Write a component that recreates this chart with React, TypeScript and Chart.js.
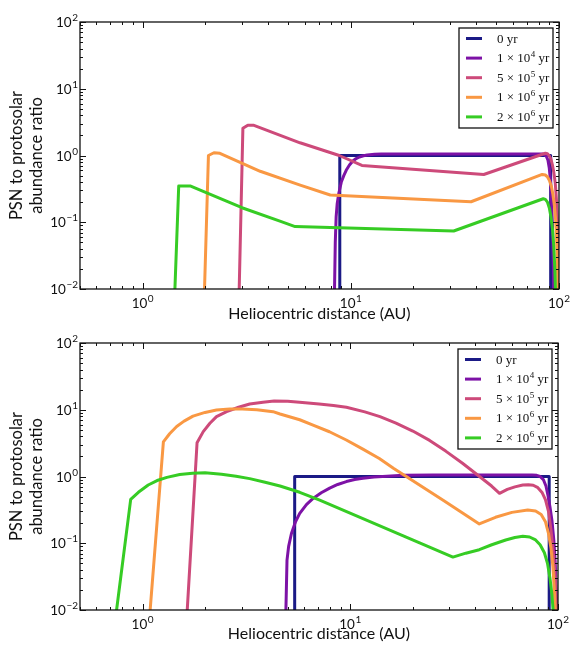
import React, { useEffect, useRef } from 'react';
import { Chart, registerables } from 'chart.js';
Chart.register(...registerables);

type Pt = [number, number];

// ---------- shared labels / styling data ----------
const seriesLabels = ['0 yr', '1 × 10^4 yr', '5 × 10^5 yr', '1 × 10^6 yr', '2 × 10^6 yr'];
const seriesColors = ['#1b1a86', '#7d12a6', '#cd4a7a', '#f99843', '#36cc24'];

const xMin = 0.5;
const xMax = 100;
const yMin = 0.01;
const yMax = 100;
const xTickValues = [1, 10, 100];
const xTickExponents = ['0', '1', '2'];
const yTickValues = [0.01, 0.1, 1, 10, 100];
const yTickExponents = ['−2', '−1', '0', '1', '2'];
const xAxisTitle = 'Heliocentric distance (AU)';
const yAxisTitle = ['PSN to protosolar', 'abundance ratio'];

// ---------- top panel series: [distance AU, ratio] ----------
const top0yr: Pt[] = [[8.85, 0.001], [8.85, 1], [91.2, 1], [91.2, 0.001]];
const top1e4yr: Pt[] = [
  [8.3, 0.001], [8.35, 0.01], [8.42, 0.05], [8.5, 0.12], [8.6, 0.19], [8.75, 0.27], [9.0, 0.4],
  [9.25, 0.5], [9.5, 0.6], [9.85, 0.72], [10.2, 0.82], [10.6, 0.9], [11, 0.95], [11.5, 0.99],
  [12, 1.02], [13, 1.04], [14, 1.05], [84, 1.05], [85.5, 1.03], [87, 0.97], [88.5, 0.85],
  [89.8, 0.65], [91, 0.42], [92, 0.22], [93, 0.09], [94, 0.02], [94.5, 0.001],
];
const top5e5yr: Pt[] = [
  [2.86, 0.001], [3.03, 2.55], [3.2, 2.85], [3.4, 2.85], [5.7, 1.55], [8.8, 1.0], [11.3, 0.71],
  [43.5, 0.52], [86, 1.08], [88, 1.06], [90, 0.98], [91.5, 0.88], [93, 0.72], [94.5, 0.55],
  [96, 0.38], [97.2, 0.22], [98.3, 0.1], [99.3, 0.03], [100, 0.005],
];
const top1e6yr: Pt[] = [
  [1.94, 0.001], [2.07, 1.0], [2.2, 1.1], [2.35, 1.08], [3.67, 0.58], [5.71, 0.36], [7.96, 0.256],
  [37.8, 0.203], [83, 0.52], [86, 0.51], [88, 0.48], [90, 0.42], [92, 0.34], [93.5, 0.26],
  [95, 0.18], [96.3, 0.11], [97.3, 0.06], [98.2, 0.025], [98.8, 0.008], [99.2, 0.001],
];
const top2e6yr: Pt[] = [
  [1.39, 0.001], [1.49, 0.35], [1.69, 0.35], [3.0, 0.165], [4.6, 0.103], [5.4, 0.086],
  [31.2, 0.074], [84, 0.225], [86, 0.22], [88, 0.2], [90, 0.16], [91.5, 0.12], [93, 0.08],
  [94.3, 0.045], [95.5, 0.02], [96.3, 0.008], [97, 0.001],
];

// ---------- bottom panel series ----------
const bot0yr: Pt[] = [[5.4, 0.001], [5.4, 1], [90.7, 1], [90.7, 0.001]];
const bot1e4yr: Pt[] = [
  [4.86, 0.001], [4.9, 0.01], [4.96, 0.056], [5.05, 0.09], [5.21, 0.14], [5.45, 0.21], [5.71, 0.28],
  [6.15, 0.38], [6.62, 0.47], [7.25, 0.57], [7.96, 0.67], [8.7, 0.76], [9.58, 0.84], [10.5, 0.9],
  [11.5, 0.94], [13, 0.98], [15, 1.01], [18, 1.04], [25, 1.05], [75, 1.05], [79, 1.04], [82, 1.0],
  [85, 0.9], [87.5, 0.72], [89.5, 0.52], [91.5, 0.35], [93.5, 0.22], [95.5, 0.11], [97, 0.05],
  [98.2, 0.015], [98.8, 0.001],
];
const bot5e5yr: Pt[] = [
  [1.62, 0.005], [1.83, 3.2], [1.96, 4.7], [2.11, 6.27], [2.27, 7.9], [2.54, 9.35], [2.9, 10.9],
  [3.28, 12.2], [3.8, 13.0], [4.3, 13.5], [5.0, 13.4], [5.7, 13.0], [7.08, 12.2], [8.3, 11.6],
  [9.58, 10.9], [11.75, 9.3], [13.9, 7.87], [16.6, 6.3], [20, 4.8], [24.1, 3.47], [28.8, 2.4],
  [34.7, 1.58], [41.9, 1.0], [47.9, 0.72], [52.3, 0.56], [57, 0.64], [62, 0.7], [67.7, 0.745],
  [72, 0.755], [76, 0.74], [80, 0.68], [84, 0.57], [87, 0.45], [90, 0.3], [92.5, 0.16], [95, 0.07],
  [97, 0.03], [98.6, 0.01], [99.2, 0.001],
];
const bot1e6yr: Pt[] = [
  [1.07, 0.001], [1.088, 0.01], [1.26, 3.3], [1.35, 4.37], [1.46, 5.6], [1.585, 6.76], [1.75, 8.04],
  [2.0, 9.12], [2.27, 9.9], [2.63, 10.28], [3.02, 10.28], [3.55, 10.0], [4.25, 9.35], [4.59, 8.63],
  [5.71, 7.08], [6.62, 5.9], [7.94, 4.68], [9.57, 3.52], [11.5, 2.57], [13.8, 1.86], [16.2, 1.32],
  [18.6, 1.0], [28, 0.44], [41.8, 0.195], [50, 0.245], [60, 0.29], [71.5, 0.315], [78, 0.305],
  [83, 0.27], [87, 0.21], [90, 0.14], [92.5, 0.085], [94.5, 0.045], [96, 0.02], [97, 0.01], [97.5, 0.001],
];
const bot2e6yr: Pt[] = [
  [0.74, 0.001], [0.75, 0.01], [0.877, 0.455], [0.955, 0.58], [1.065, 0.746], [1.175, 0.87],
  [1.31, 0.97], [1.51, 1.07], [1.74, 1.12], [2.0, 1.135], [2.4, 1.084], [2.82, 1.01], [3.28, 0.93],
  [3.89, 0.82], [4.59, 0.72], [5.71, 0.58], [7.08, 0.447], [31.2, 0.062], [36, 0.071], [41.8, 0.08],
  [48, 0.095], [56, 0.112], [62, 0.122], [67.7, 0.127], [73, 0.124], [78, 0.112], [82, 0.095],
  [86, 0.072], [89, 0.05], [91.5, 0.03], [93.5, 0.017], [95.5, 0.007], [96.5, 0.001],
];

const topSeries = [top0yr, top1e4yr, top5e5yr, top1e6yr, top2e6yr];
const bottomSeries = [bot0yr, bot1e4yr, bot5e5yr, bot1e6yr, bot2e6yr];

const SANS = 'Lato, "Noto Sans", sans-serif';
const SERIF = '"Liberation Serif", "DejaVu Serif", serif';

function drawPower(
  ctx: CanvasRenderingContext2D,
  x: number,
  baseline: number,
  exp: string,
  align: 'center' | 'right'
) {
  const mainFont = `13.5px ${SANS}`;
  const expFont = `10px ${SANS}`;
  ctx.font = mainFont;
  const wb = ctx.measureText('10').width;
  ctx.font = expFont;
  const we = ctx.measureText(exp).width;
  const gap = 0.5;
  const total = wb + gap + we;
  const x0 = align === 'center' ? x - total / 2 : x - total;
  ctx.textAlign = 'left';
  ctx.textBaseline = 'alphabetic';
  ctx.fillStyle = '#111';
  ctx.font = mainFont;
  ctx.fillText('10', x0, baseline);
  ctx.font = expFont;
  ctx.fillText(exp, x0 + wb + gap, baseline - 6);
}

const decorPlugin = {
  id: 'decor',
  afterDatasetsDraw(chart: any) {
    const { ctx, chartArea } = chart;
    const { left, right, top, bottom } = chartArea;
    const xs = chart.scales.x;
    const ys = chart.scales.y;
    ctx.save();
    ctx.strokeStyle = '#111';
    ctx.lineWidth = 1.3;
    ctx.strokeRect(left, top, right - left, bottom - top);
    ctx.lineWidth = 1;
    const majorLen = 6;
    const minorLen = 3;
    for (let d = -1; d <= 2; d++) {
      for (let k = 1; k <= 9; k++) {
        const v = k * Math.pow(10, d);
        if (v < xMin - 1e-9 || v > xMax + 1e-9) continue;
        const px = Math.round(xs.getPixelForValue(v)) + 0.5;
        const len = k === 1 ? majorLen : minorLen;
        ctx.beginPath();
        ctx.moveTo(px, bottom);
        ctx.lineTo(px, bottom - len);
        ctx.moveTo(px, top);
        ctx.lineTo(px, top + len);
        ctx.stroke();
      }
    }
    for (let d = -2; d <= 2; d++) {
      for (let k = 1; k <= 9; k++) {
        const v = k * Math.pow(10, d);
        if (v < yMin - 1e-12 || v > yMax + 1e-9) continue;
        const py = Math.round(ys.getPixelForValue(v)) + 0.5;
        const len = k === 1 ? majorLen : minorLen;
        ctx.beginPath();
        ctx.moveTo(left, py);
        ctx.lineTo(left + len, py);
        ctx.moveTo(right, py);
        ctx.lineTo(right - len, py);
        ctx.stroke();
      }
    }
    xTickValues.forEach((v, i) => {
      drawPower(ctx, xs.getPixelForValue(v), bottom + 19, xTickExponents[i], 'center');
    });
    yTickValues.forEach((v, i) => {
      drawPower(ctx, left - 2, ys.getPixelForValue(v) + 5, yTickExponents[i], 'right');
    });

    // legend box
    const bw = 94;
    const bh = 100;
    const bx = right - 6 - bw;
    const by = top + 6;
    ctx.fillStyle = '#fff';
    ctx.fillRect(bx, by, bw, bh);
    ctx.strokeStyle = '#111';
    ctx.lineWidth = 1.3;
    ctx.strokeRect(bx, by, bw, bh);
    chart.data.datasets.forEach((ds: any, i: number) => {
      const ry = by + 10.5 + i * 19.6;
      ctx.strokeStyle = ds.borderColor;
      ctx.lineWidth = 3;
      ctx.beginPath();
      ctx.moveTo(bx + 7, ry);
      ctx.lineTo(bx + 23, ry);
      ctx.stroke();
      const label: string = ds.label;
      const tx = bx + 38;
      const base = ry + 4;
      ctx.fillStyle = '#111';
      ctx.textAlign = 'left';
      ctx.textBaseline = 'alphabetic';
      const mainFont = `13px ${SERIF}`;
      const supFont = `9px ${SERIF}`;
      if (label.includes('^')) {
        const [pre, rest] = label.split('^');
        const sp = rest.indexOf(' ');
        const exp = rest.slice(0, sp);
        const post = rest.slice(sp);
        ctx.font = mainFont;
        ctx.fillText(pre, tx, base);
        let cx = tx + ctx.measureText(pre).width + 0.5;
        ctx.font = supFont;
        ctx.fillText(exp, cx, base - 5);
        cx += ctx.measureText(exp).width;
        ctx.font = mainFont;
        ctx.fillText(post, cx, base);
      } else {
        ctx.font = mainFont;
        ctx.fillText(label, tx, base);
      }
    });
    ctx.restore();
  },
};

function makeConfig(series: Pt[][], pad: { top: number; right: number }, xAxisHeight: number, xTitlePadBottom: number) {
  return {
    type: 'line' as const,
    data: {
      datasets: series.map((pts, i) => ({
        label: seriesLabels[i],
        data: pts.map(([x, y]) => ({ x, y })),
        borderColor: seriesColors[i],
        backgroundColor: seriesColors[i],
        borderWidth: 3,
        pointRadius: 0,
        tension: 0,
        fill: false,
        borderJoinStyle: 'round' as const,
        order: series.length - i,
      })),
    },
    options: {
      animation: false as const,
      responsive: false,
      maintainAspectRatio: false,
      events: [],
      layout: { padding: { top: pad.top, right: pad.right, left: 0, bottom: 0 } },
      plugins: { legend: { display: false }, tooltip: { enabled: false } },
      scales: {
        x: {
          type: 'logarithmic' as const,
          min: xMin,
          max: xMax,
          grid: { display: false, drawTicks: false },
          border: { display: false },
          ticks: { display: false },
          title: {
            display: true,
            text: xAxisTitle,
            color: '#111',
            font: { family: SANS, size: 16 },
            padding: { top: 0, bottom: xTitlePadBottom },
          },
          afterFit(s: any) {
            s.height = xAxisHeight;
            s.paddingLeft = 0;
            s.paddingRight = 0;
          },
        },
        y: {
          type: 'logarithmic' as const,
          min: yMin,
          max: yMax,
          grid: { display: false, drawTicks: false },
          border: { display: false },
          ticks: { display: false },
          title: {
            display: true,
            text: yAxisTitle,
            color: '#111',
            font: { family: SANS, size: 16.5, lineHeight: 1.22 },
            padding: { top: 6.5, bottom: 0 },
          },
          afterFit(s: any) {
            s.width = 80;
            s.paddingTop = 0;
            s.paddingBottom = 0;
          },
        },
      },
    },
    plugins: [decorPlugin],
  };
}

function Panel({ series, pad, xAxisHeight, xTitlePadBottom }: any) {
  const ref = useRef<HTMLCanvasElement | null>(null);
  useEffect(() => {
    if (!ref.current) return;
    const chart = new Chart(ref.current, makeConfig(series, pad, xAxisHeight, xTitlePadBottom) as any);
    return () => chart.destroy();
  }, []);
  return (
    <div style={{ width: 574, height: 324, position: 'relative' }}>
      <canvas ref={ref} width={574} height={324} style={{ width: 574, height: 324, display: 'block' }} />
    </div>
  );
}

export default function App() {
  return (
    <div style={{ position: 'absolute', left: 0, top: 0, width: 574, height: 648, background: '#fff' }}>
      <Panel series={topSeries} pad={{ top: 22, right: 15 }} xAxisHeight={35} xTitlePadBottom={1} />
      <Panel series={bottomSeries} pad={{ top: 19, right: 16 }} xAxisHeight={38} xTitlePadBottom={5} />
    </div>
  );
}
